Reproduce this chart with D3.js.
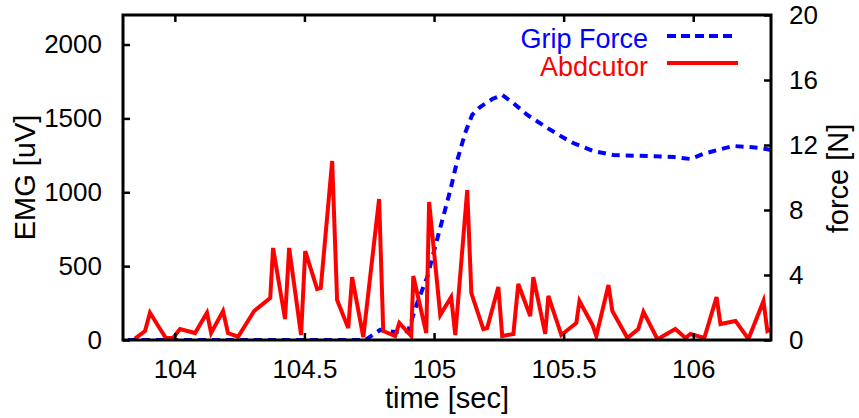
<!DOCTYPE html>
<html>
<head>
<meta charset="utf-8">
<style>
  body { margin: 0; background: #fff; }
  svg text { font-family: "Liberation Sans", Arial, sans-serif; }
</style>
</head>
<body>
<svg id="chart" width="859" height="418"></svg>
<script src="https://cdn.jsdelivr.net/npm/d3@7"></script>
<script>
// abductor EMG (uV) against time (sec)
var emgTime = [103.846, 103.885, 103.904, 103.943, 103.965, 103.993, 104.020, 104.078, 104.124, 104.140,
  104.186, 104.205, 104.244, 104.306, 104.368, 104.379, 104.425, 104.441, 104.487, 104.503,
  104.549, 104.563, 104.607, 104.626, 104.669, 104.684, 104.727, 104.788, 104.804, 104.850,
  104.866, 104.912, 104.920, 104.970, 104.981, 105.024, 105.066, 105.082, 105.128, 105.144,
  105.190, 105.205, 105.248, 105.263, 105.306, 105.325, 105.371, 105.383, 105.429, 105.441,
  105.491, 105.549, 105.561, 105.611, 105.626, 105.673, 105.688, 105.746, 105.788, 105.808,
  105.862, 105.931, 105.970, 105.989, 106.043, 106.090, 106.105, 106.163, 106.213, 106.271,
  106.286, 106.302];
var emgValue = [10, 61, 185, 74, 14, 14, 74, 47, 185, 47,
  196, 47, 22, 196, 284, 623, 142, 623, 34, 602,
  345, 352, 1212, 271, 81, 426, 20, 954, 61, 27,
  115, 27, 433, 47, 934, 169, 291, 34, 1015, 318,
  74, 81, 359, 27, 41, 379, 162, 426, 41, 298,
  34, 115, 264, 102, 27, 372, 196, 14, 74, 190,
  5, 74, 14, 41, 14, 291, 108, 129, 7, 264,
  61, 74];

// grip force (N) against time (sec)
var forceTime = [103.819, 104.734, 104.792, 104.850, 104.900, 104.935, 104.974, 105.001, 105.032, 105.063,
  105.090, 105.120, 105.147, 105.178, 105.225, 105.263, 105.306, 105.360, 105.437, 105.495,
  105.537, 105.615, 105.692, 105.823, 105.924, 105.989, 106.039, 106.093, 106.155, 106.209,
  106.259, 106.302];
var forceValue = [0, 0, 0.62, 0.49, 0.55, 2.28, 3.88, 5.54, 7.38, 9.23,
  11.08, 12.74, 13.85, 14.34, 14.83, 15.08, 14.58, 13.85, 13.05, 12.49,
  12.12, 11.63, 11.38, 11.32, 11.26, 11.14, 11.45, 11.69, 11.94, 11.88,
  11.82, 11.69];

var xTicks = [104, 104.5, 105, 105.5, 106];
var emgTicks = [0, 500, 1000, 1500, 2000];
var forceTicks = [0, 4, 8, 12, 16, 20];
var legendNames = ["Grip Force", "Abdcutor"];

var plotLeft = 123, plotRight = 771, plotTop = 15, plotBottom = 340;
var midY = (plotTop + plotBottom) / 2;

var svg = d3.select("#chart");

var x = d3.scaleLinear().domain([103.8, 106.3]).range([plotLeft, plotRight]);
var yEmg = d3.scaleLinear().domain([0, 2200]).range([plotBottom, plotTop]);
var yForce = d3.scaleLinear().domain([0, 20]).range([plotBottom, plotTop]);

svg.append("clipPath").attr("id", "plotclip")
  .append("rect")
  .attr("x", plotLeft).attr("y", plotTop - 2)
  .attr("width", plotRight - plotLeft).attr("height", plotBottom - plotTop + 2);

var emgLine = d3.line()
  .x(function(d, i) { return x(emgTime[i]); })
  .y(function(d) { return yEmg(d); });

var forceLine = d3.line()
  .x(function(d, i) { return x(forceTime[i]); })
  .y(function(d) { return yForce(d); });

var plot = svg.append("g").attr("clip-path", "url(#plotclip)");

plot.append("path")
  .attr("d", forceLine(forceValue))
  .attr("fill", "none")
  .attr("stroke", "#0000ff")
  .attr("stroke-width", 4)
  .attr("stroke-dasharray", "8,6");

plot.append("path")
  .attr("d", emgLine(emgValue))
  .attr("fill", "none")
  .attr("stroke", "#ff0000")
  .attr("stroke-width", 4);

// axes, ticks pointing inward like gnuplot
function styleAxis(g) {
  g.attr("font-size", 26).attr("font-family", "'Liberation Sans', Arial, sans-serif");
  g.select(".domain").remove();
  g.selectAll(".tick line").attr("stroke", "#000").attr("stroke-width", 2.5);
  g.selectAll(".tick text").attr("fill", "#000");
}

svg.append("g")
  .attr("transform", "translate(0," + plotBottom + ")")
  .call(d3.axisBottom(x).tickValues(xTicks).tickSize(-7).tickPadding(20)
    .tickFormat(function(d) { return String(d); }))
  .call(styleAxis);

svg.append("g")
  .attr("transform", "translate(0," + plotTop + ")")
  .call(d3.axisTop(x).tickValues(xTicks).tickSize(-7).tickFormat(""))
  .call(styleAxis);

svg.append("g")
  .attr("transform", "translate(" + plotLeft + ",0)")
  .call(d3.axisLeft(yEmg).tickValues(emgTicks).tickSize(-7).tickPadding(21)
    .tickFormat(d3.format("d")))
  .call(styleAxis);

svg.append("g")
  .attr("transform", "translate(" + plotRight + ",0)")
  .call(d3.axisRight(yForce).tickValues(forceTicks).tickSize(-7).tickPadding(18)
    .tickFormat(d3.format("d")))
  .call(styleAxis);

svg.append("rect")
  .attr("x", plotLeft).attr("y", plotTop)
  .attr("width", plotRight - plotLeft).attr("height", plotBottom - plotTop)
  .attr("fill", "none")
  .attr("stroke", "#000")
  .attr("stroke-width", 3);

// axis titles
svg.append("text")
  .attr("x", (plotLeft + plotRight) / 2).attr("y", 408)
  .attr("text-anchor", "middle")
  .attr("font-size", 29)
  .text("time [sec]");

svg.append("text")
  .attr("transform", "translate(35," + midY + ") rotate(-90)")
  .attr("text-anchor", "middle")
  .attr("font-size", 29)
  .text("EMG [uV]");

svg.append("text")
  .attr("transform", "translate(848," + (midY + 1) + ") rotate(-90)")
  .attr("text-anchor", "middle")
  .attr("font-size", 29)
  .text("force [N]");

// legend
var legend = svg.append("g");
legend.append("text")
  .attr("x", 648).attr("y", 48)
  .attr("text-anchor", "end")
  .attr("font-size", 27)
  .attr("fill", "#0000ff")
  .text(legendNames[0]);
legend.append("line")
  .attr("x1", 667).attr("x2", 735).attr("y1", 36).attr("y2", 36)
  .attr("stroke", "#0000ff").attr("stroke-width", 4)
  .attr("stroke-dasharray", "9,5");

legend.append("text")
  .attr("x", 648).attr("y", 76)
  .attr("text-anchor", "end")
  .attr("font-size", 27)
  .attr("fill", "#ff0000")
  .text(legendNames[1]);
legend.append("line")
  .attr("x1", 667).attr("x2", 738).attr("y1", 63).attr("y2", 63)
  .attr("stroke", "#ff0000").attr("stroke-width", 4);
</script>
</body>
</html>
